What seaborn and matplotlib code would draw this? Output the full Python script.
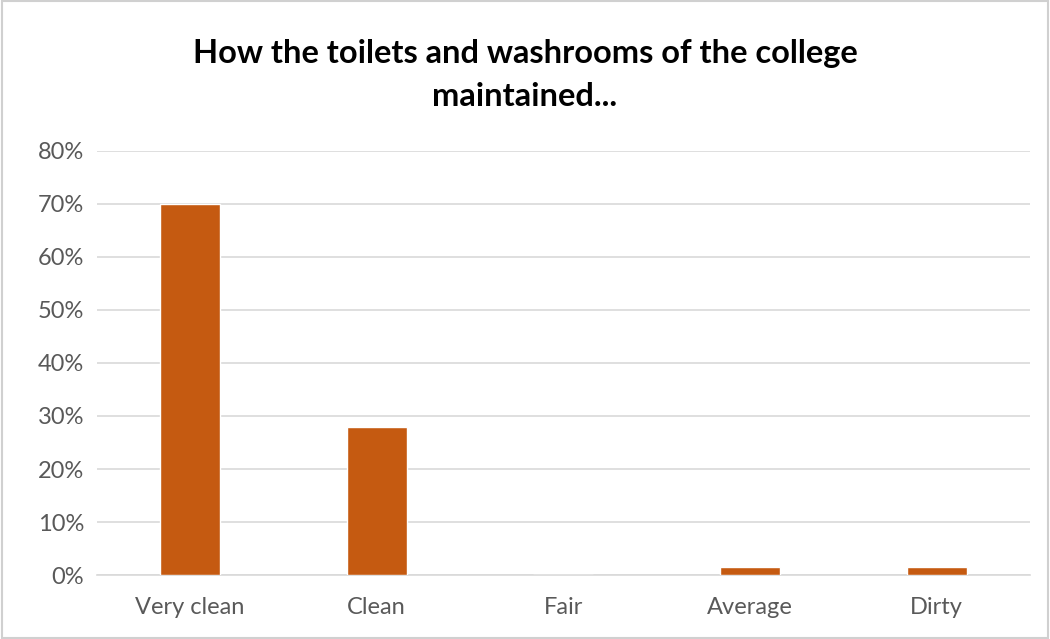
import matplotlib
matplotlib.use("Agg")
import matplotlib.pyplot as plt
import seaborn as sns
import pandas as pd
from matplotlib.ticker import FuncFormatter, MultipleLocator

categories = ["Very clean", "Clean", "Fair", "Average", "Dirty"]
values = [70, 28, 0, 1.5, 1.5]
title = "How the toilets and washrooms of the college\nmaintained..."

sns.set_theme(style="white")
plt.rcParams['font.family'] = ['Lato', 'DejaVu Sans']

df = pd.DataFrame({"cat": categories, "val": values})

fig = plt.figure(figsize=(10.5, 6.39), dpi=100)
ax = fig.add_axes([0.092, 0.100, 0.889, 0.664])
sns.barplot(data=df, x="cat", y="val", color="#C55A11", saturation=1, width=0.32, ax=ax, zorder=3)

ax.set_ylim(0, 80)
ax.yaxis.set_major_locator(MultipleLocator(10))
ax.yaxis.set_major_formatter(FuncFormatter(lambda v, p: f"{int(v)}%"))
ax.grid(axis="y", color="#D9D9D9", linewidth=1.2, zorder=0)
ax.set_xlabel("")
ax.set_ylabel("")
for s in ["top", "right", "left"]:
    ax.spines[s].set_visible(False)
ax.spines["bottom"].set_color("#D9D9D9")
ax.spines["bottom"].set_linewidth(1.2)
ax.tick_params(axis="both", length=0, labelsize=17, colors="#595959")
ax.tick_params(axis="x", pad=16)
ax.tick_params(axis="y", pad=9)
ax.set_xlim(-0.5, 4.5)

fig.text(0.5, 0.883, title, ha="center", va="center", fontsize=23.5, fontweight="bold", color="black", linespacing=1.6)

fig.patches.append(plt.Rectangle((0.002, 0.002), 0.996, 0.996, transform=fig.transFigure,
                                 fill=False, edgecolor="#D0D0D0", linewidth=1.5))
fig.savefig("out.png", dpi=100)
